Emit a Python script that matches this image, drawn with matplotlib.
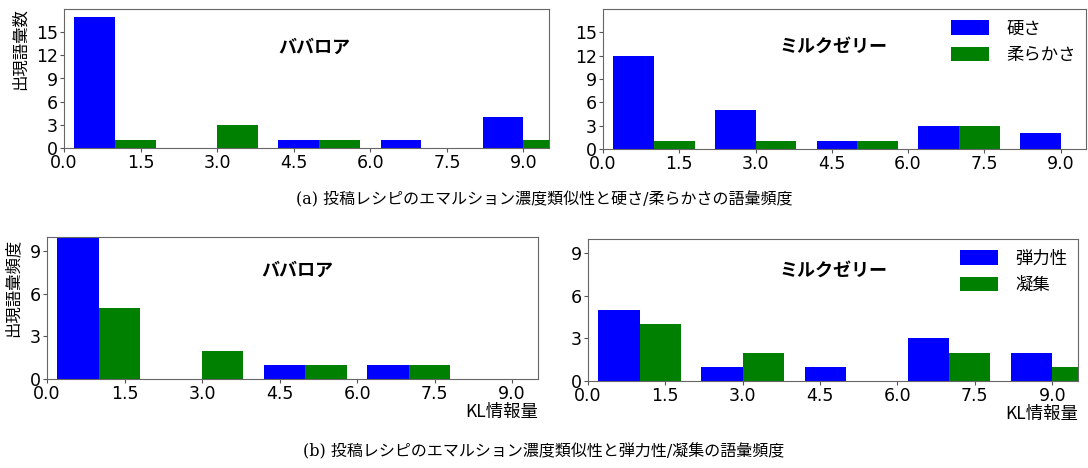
import numpy as np
import matplotlib
matplotlib.use('Agg')
import matplotlib.pyplot as plt

plt.rcParams['font.family'] = ['DejaVu Sans', 'Noto Sans CJK JP']

# bin centres of KL information
bins = np.array([1, 3, 5, 7, 9])

# (a) hardness / softness
bav_hard = [17, 0, 1, 1, 4]
bav_soft = [1, 3, 1, 0, 1]
milk_hard = [12, 5, 1, 3, 2]
milk_soft = [1, 1, 1, 3, 0]

# (b) elasticity / cohesion
bav_elast = [10, 0, 1, 1, 0]
bav_cohes = [5, 2, 1, 1, 0]
milk_elast = [5, 1, 1, 3, 2]
milk_cohes = [4, 2, 0, 2, 1]

xticks = [0.0, 1.5, 3.0, 4.5, 6.0, 7.5, 9.0]
W, H = 1088, 468

fig = plt.figure(figsize=(W / 100, H / 100), dpi=100)


def px_axes(left, right, top, bottom):
    return fig.add_axes([left / W, 1 - bottom / H, (right - left) / W, (bottom - top) / H])


def panel(ax, a, b, ymax, yticks, title, tpos, labels=None, ylabel=None, ypos=None, xlabel=False):
    ax.bar(bins - 0.4, a, width=0.8, color='#0000ff', label=labels[0] if labels else None)
    ax.bar(bins + 0.4, b, width=0.8, color='#008000', label=labels[1] if labels else None)
    ax.set_xlim(0, 9.5)
    ax.set_ylim(0, ymax)
    ax.set_xticks(xticks)
    ax.set_xticklabels(['%.1f' % t for t in xticks])
    ax.set_yticks(yticks)
    ax.tick_params(labelsize=12.5, pad=1.5, length=3, color='#555555')
    for s in ax.spines.values():
        s.set_color('#666666')
    ax.text(tpos[0], tpos[1], title, transform=ax.transAxes, ha='center', va='center',
            fontsize=13, fontweight='bold', family='Noto Sans CJK JP')
    if ylabel:
        ax.set_ylabel(ylabel, fontsize=11.8, family='Noto Sans CJK JP')
        ax.yaxis.set_label_coords(ypos[0], ypos[1])
    if xlabel:
        ax.set_xlabel('KL情報量', fontsize=12.5, loc='right', labelpad=0,
                      family='Noto Sans CJK JP')
    if labels:
        ax.legend(loc='upper right', frameon=False, handlelength=2.2,
                  handleheight=0.9, handletextpad=1.0, labelspacing=0.5,
                  borderaxespad=0.2, prop={'family': 'Noto Sans CJK JP', 'size': 12.5})


ax1 = px_axes(64, 549, 9, 148)
panel(ax1, bav_hard, bav_soft, 18, [0, 3, 6, 9, 12, 15], 'ババロア', (0.517, 0.727),
      ylabel='出現語彙数', ypos=(-0.073, 0.71))
ax2 = px_axes(603, 1086, 9, 149)
panel(ax2, milk_hard, milk_soft, 18, [0, 3, 6, 9, 12, 15], 'ミルクゼリー', (0.477, 0.735),
      labels=['硬さ', '柔らかさ'])
ax3 = px_axes(47, 538, 237, 379)
panel(ax3, bav_elast, bav_cohes, 10, [0, 3, 6, 9], 'ババロア', (0.51, 0.768),
      ylabel='出現語彙頻度', ypos=(-0.052, 0.64), xlabel=True)
ax4 = px_axes(588, 1078, 239, 381)
panel(ax4, milk_elast, milk_cohes, 10, [0, 3, 6, 9], 'ミルクゼリー', (0.5, 0.78),
      labels=['弾力性', '凝集'], xlabel=True)

fig.text(0.5, 1 - 200 / H, '(a) 投稿レシピのエマルション濃度類似性と硬さ/柔らかさの語彙頻度',
         ha='center', va='center', fontsize=11.5, family=['DejaVu Serif', 'Noto Sans CJK JP'])
fig.text(0.5, 1 - 452 / H, '(b) 投稿レシピのエマルション濃度類似性と弾力性/凝集の語彙頻度',
         ha='center', va='center', fontsize=11.5, family=['DejaVu Serif', 'Noto Sans CJK JP'])

fig.savefig('out.png', dpi=100)
